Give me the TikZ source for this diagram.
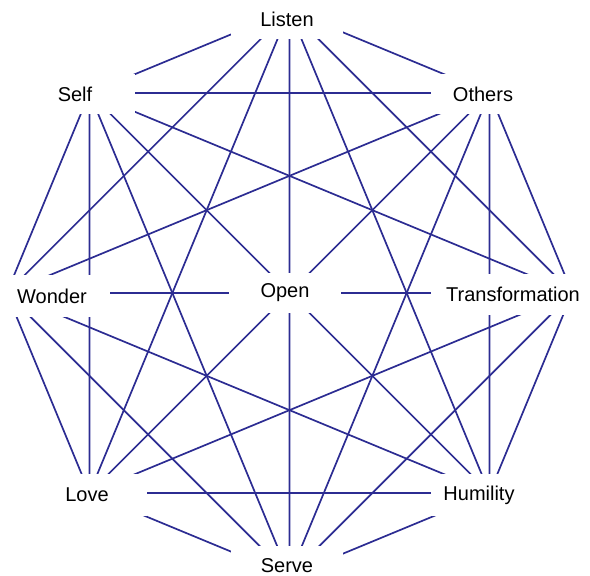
\documentclass[tikz,border=0pt]{standalone}
\usepackage{fontspec}
\setmainfont{Liberation Sans}
\definecolor{linkblue}{RGB}{44,44,146}

\begin{document}
\begin{tikzpicture}[x=1pt, y=-1pt,
    edge/.style={linkblue, line width=1.7pt},
    lbl/.style={fill=white, inner sep=0pt, font=\fontsize{20}{22}\selectfont}]
    \useasboundingbox (0,0) rectangle (590,576);

    % 八边形顶点
    \coordinate (listen) at (289.5,10.2);
    \coordinate (others) at (489.5,93);
    \coordinate (transf) at (572.3,293);
    \coordinate (humility) at (489.5,493);
    \coordinate (serve) at (289.5,575.8);
    \coordinate (love) at (89.5,493);
    \coordinate (wonder) at (6.7,293);
    \coordinate (self) at (89.5,93);

    % 两两相连
    \draw[edge] (listen) -- (others) (listen) -- (transf) (listen) -- (humility)
        (listen) -- (serve) (listen) -- (love) (listen) -- (wonder) (listen) -- (self);
    \draw[edge] (others) -- (transf) (others) -- (humility) (others) -- (serve)
        (others) -- (love) (others) -- (wonder) (others) -- (self);
    \draw[edge] (transf) -- (humility) (transf) -- (serve) (transf) -- (love)
        (transf) -- (wonder) (transf) -- (self);
    \draw[edge] (humility) -- (serve) (humility) -- (love) (humility) -- (wonder)
        (humility) -- (self);
    \draw[edge] (serve) -- (love) (serve) -- (wonder) (serve) -- (self);
    \draw[edge] (love) -- (wonder) (love) -- (self);
    \draw[edge] (wonder) -- (self);

    % 标签
    \node[lbl, minimum width=112, minimum height=40] (listen text) at (287,19) {Listen};
    \node[lbl, minimum width=120, minimum height=40] (self text) at (75,94) {Self};
    \node[lbl, minimum width=104, minimum height=40] (others text) at (483,94) {Others};
    \node[lbl, minimum width=116, minimum height=42] (wonder text) at (52,296) {Wonder};
    \node[lbl, minimum width=112, minimum height=40] (open text) at (285,293) {Open};
    \node[lbl, minimum width=164, minimum height=41] (transf text) at (513,294) {Transformation};
    \node[lbl, minimum width=120, minimum height=42] (love text) at (87,495) {Love};
    \node[lbl, minimum width=96, minimum height=42] (humility text) at (479,495) {Humility};
    \node[lbl, minimum width=112, minimum height=40] (serve text) at (287,566) {Serve};
\end{tikzpicture}
\end{document}
